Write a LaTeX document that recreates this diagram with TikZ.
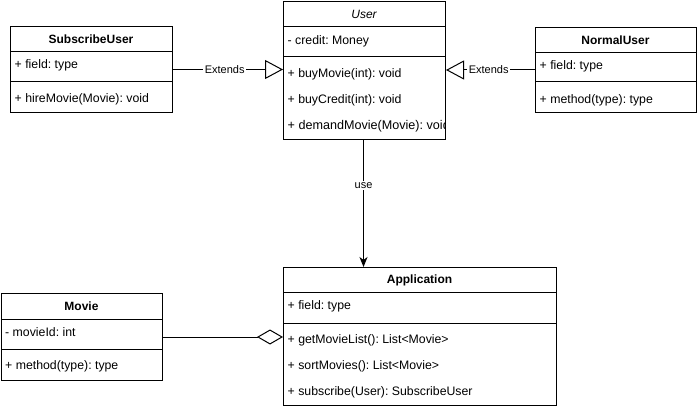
\documentclass[tikz,border=0pt]{standalone}
\usepackage{fontspec}
\setmainfont{Liberation Sans}
\usetikzlibrary{arrows.meta}
\frenchspacing
\begin{document}
\begin{tikzpicture}[x=1pt,y=-1pt,
  classbox/.style={draw=black, line width=1pt, fill=white, inner sep=0pt, anchor=north west},
  title/.style={font=\fontsize{12}{14}\selectfont\bfseries, inner sep=0pt, anchor=center},
  ititle/.style={font=\fontsize{12}{14}\selectfont\itshape, inner sep=0pt, anchor=center},
  member/.style={font=\fontsize{12.3}{14}\selectfont, inner sep=0pt, anchor=west},
  divider/.style={line width=1pt},
  lbl/.style={font=\fontsize{11}{13}\selectfont, fill=white, inner sep=1.5pt},
  link/.style={line width=1pt, line join=miter}
]
\useasboundingbox[fill=white] (0,0) rectangle (698,411);

% ---------- SubscribeUser ----------
\node[classbox, minimum width=162pt, minimum height=86pt] (su) at (10,26) {};
\node[title] (su-t) at (91,39.5) {SubscribeUser};
\draw[divider] (10,52) -- (172,52);
\node[member] (su-f) at (14.5,65.5) {+ field: type};
\draw[divider] (10,82) -- (172,82);
\node[member] (su-m) at (14.5,99.5) {+ hireMovie(Movie): void};

% ---------- User ----------
\node[classbox, minimum width=162pt, minimum height=138pt] (user) at (283,1) {};
\node[ititle] (user-t) at (364,14) {User};
\draw[divider] (283,27) -- (445,27);
\node[member] (user-f) at (287.5,41) {- credit: Money};
\draw[divider] (283,57) -- (445,57);
\node[member] (user-m1) at (287.5,74) {+ buyMovie(int): void};
\node[member] (user-m2) at (287.5,100) {+ buyCredit(int): void};
% the last member is wider than the box and is cut at its right edge
\begin{scope}
  \clip (283,1) rectangle (444.5,139);
  \node[member, font=\fontsize{12.6}{14}\selectfont] (user-m3) at (287.5,126.5) {+ demandMovie(Movie): void};
\end{scope}

% ---------- NormalUser ----------
\node[classbox, minimum width=161pt, minimum height=85pt] (nu) at (535,27) {};
\node[title] (nu-t) at (615.5,40) {NormalUser};
\draw[divider] (535,53) -- (696,53);
\node[member] (nu-f) at (539.5,66) {+ field: type};
\draw[divider] (535,82) -- (696,82);
\node[member] (nu-m) at (539.5,100) {+ method(type): type};

% ---------- Movie ----------
\node[classbox, minimum width=161pt, minimum height=87pt] (movie) at (1,293) {};
\node[title] (movie-t) at (81.5,306) {Movie};
\draw[divider] (1,319) -- (162,319);
\node[member] (movie-f) at (5,332) {- movieId: int};
\draw[divider] (1,349) -- (162,349);
\node[member] (movie-m) at (5,366.5) {+ method(type): type};

% ---------- Application ----------
\node[classbox, minimum width=273pt, minimum height=138pt] (app) at (283,267) {};
\node[title] (app-t) at (419.5,280) {Application};
\draw[divider] (283,293) -- (556,293);
\node[member] (app-f) at (287.5,306.5) {+ field: type};
\draw[divider] (283,323) -- (556,323);
\node[member] (app-m1) at (287.5,340.5) {+ getMovieList(): List<Movie>};
\node[member] (app-m2) at (287.5,366.5) {+ sortMovies(): List<Movie>};
\node[member] (app-m3) at (287.5,392.5) {+ subscribe(User): SubscribeUser};

% ---------- Relations ----------
\draw[link, -{Triangle[open, length=18pt, width=19pt, fill=white]}]
  (su.east) -- node[lbl, pos=0.47] {Extends} (su.east -| user.west);
\draw[link, -{Triangle[open, length=18pt, width=19pt, fill=white]}]
  (nu.west) -- node[lbl, pos=0.52] {Extends} (nu.west -| user.east);
\draw[link, -{Stealth[length=10pt, width=8pt, inset=3pt]}]
  ([xshift=-1pt]user.south) -- node[lbl, pos=0.36] {use} ([xshift=-1pt]user.south |- app.north);
\draw[link, -{Diamond[open, length=26pt, width=15pt, fill=white]}]
  (movie.east) -- (movie.east -| app.west);
\end{tikzpicture}
\end{document}
